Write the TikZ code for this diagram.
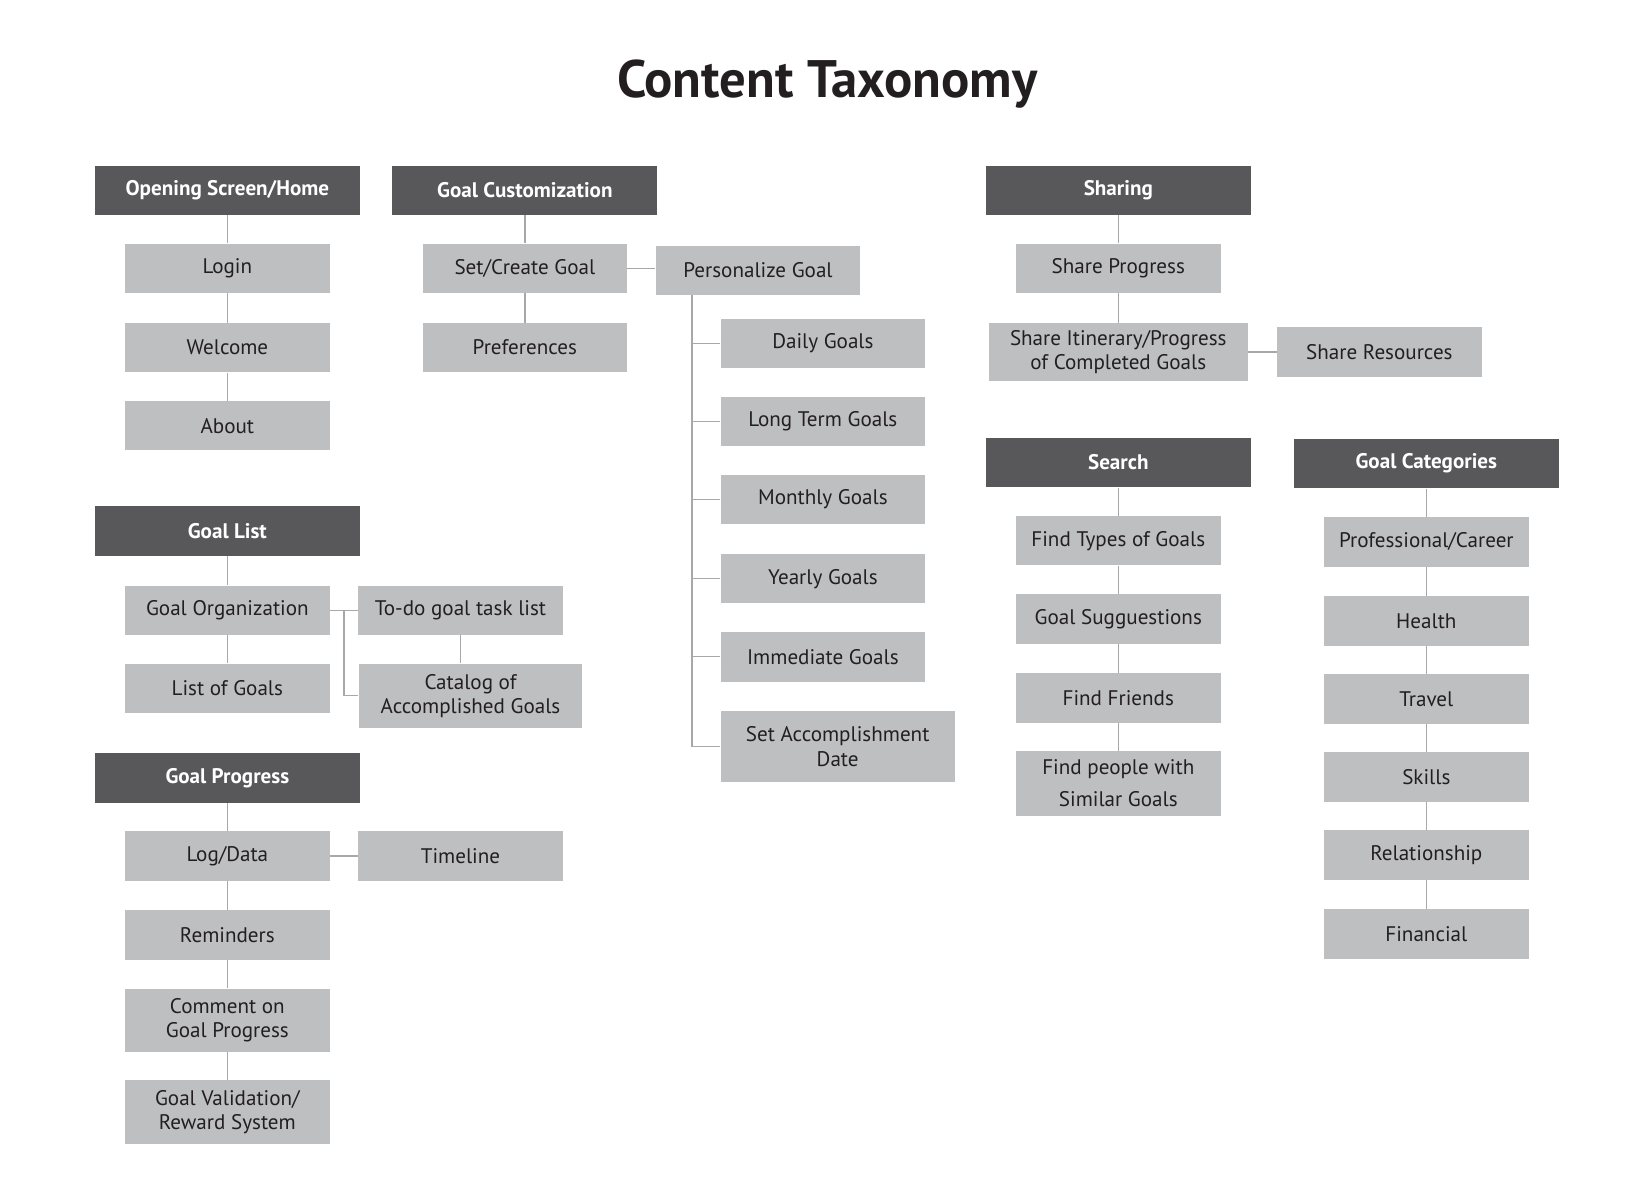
\documentclass[tikz,border=0pt]{standalone}
\usepackage{fontspec}
\setmainfont{PT Sans}
\definecolor{dk}{HTML}{58585A}
\definecolor{lt}{HTML}{BEBFC1}
\definecolor{ln}{HTML}{A8A8A8}
\definecolor{tx}{HTML}{231F20}
\begin{document}
\begin{tikzpicture}[x=1pt,y=-1pt,
 hd/.style={fill=dk,text=white,font=\fontsize{20}{22}\selectfont\bfseries,minimum width=251pt,minimum height=47pt,inner sep=0pt,align=center},
 bx/.style={fill=lt,text=tx,font=\fontsize{20}{24}\selectfont,minimum width=194pt,minimum height=47pt,inner sep=0pt,align=center},
 ln/.style={draw=ln,line width=1.3pt}]
\useasboundingbox (0,0) rectangle (1564,1126);
\node[text=tx,font=\fontsize{50}{56}\selectfont\bfseries] (title) at (784,80) {Content Taxonomy};
% Opening
\node[hd] (osh) at (215.5,180.5) {Opening Screen/Home};
\node[bx] (login) at (215.5,254.5) {Login};
\node[bx] (welc) at (215.5,329.5) {Welcome};
\node[bx] (about) at (215.5,403.5) {About};
\draw[ln] (osh) -- (login) (login) -- (welc) (welc) -- (about);
% Goal customization
\node[hd] (gc) at (497.5,180.5) {Goal Customization};
\node[bx] (set) at (497.5,254.5) {Set/Create Goal};
\node[bx] (pref) at (497.5,329.5) {Preferences};
\node[bx] (pers) at (718.5,256.5) {Personalize Goal};
\draw[ln] (gc) -- (set) (set) -- (pref);
\draw[ln] (set.east) -- (set.east -| pers.west);
\node[bx] (daily) at (780,325.5) {Daily Goals};
\node[bx] (long) at (780,399.5) {Long Term Goals};
\node[bx] (month) at (780,473.5) {Monthly Goals};
\node[bx] (year) at (780,548.5) {Yearly Goals};
\node[bx] (imm) at (780,622.5) {Immediate Goals};
\node[bx,minimum width=222pt,minimum height=67pt] (sad) at (794,707.5) {Set Accomplishment\\Date};
\coordinate (pv) at (656,280);
\draw[ln] (pv) |- (sad.west);
\foreach \n in {daily,long,month,year,imm} \draw[ln] (\n.west) -- (\n.west -| pv);
% Sharing
\node[hd] (sh) at (1060,180.5) {Sharing};
\node[bx] (shp) at (1060,254.5) {Share Progress};
\node[bx,minimum width=246pt,minimum height=55pt,font=\fontsize{20}{23}\selectfont] (shi) at (1060,333.5) {Share Itinerary/Progress\\of Completed Goals};
\node[bx] (shr) at (1307.5,333.5) {Share Resources};
\draw[ln] (sh) -- (shp) (shp) -- (shi) (shi) -- (shr);
% Search
\node[hd] (se) at (1060,438.5) {Search};
\node[bx] (ft) at (1060,512.5) {Find Types of Goals};
\node[bx] (gs) at (1060,586.5) {Goal Sugguestions};
\node[bx] (ff) at (1060,661.5) {Find Friends};
\node[bx,minimum height=61pt,font=\fontsize{20}{30}\selectfont] (fp) at (1060,742.5) {Find people with\\Similar Goals};
\draw[ln] (se) -- (ft) (ft) -- (gs) (gs) -- (ff) (ff) -- (fp);
% Categories
\node[hd] (cat) at (1352,439.5) {Goal Categories};
\node[bx] (c1) at (1352,513.5) {Professional/Career};
\node[bx] (c2) at (1352,588.5) {Health};
\node[bx] (c3) at (1352,662.5) {Travel};
\node[bx] (c4) at (1352,736.5) {Skills};
\node[bx] (c5) at (1352,810.5) {Relationship};
\node[bx] (c6) at (1352,885.5) {Financial};
\draw[ln] (cat) -- (c1) (c1) -- (c2) (c2) -- (c3) (c3) -- (c4) (c4) -- (c5) (c5) -- (c6);
% Goal list
\node[hd] (gl) at (215.5,503.5) {Goal List};
\node[bx] (go) at (215.5,578.5) {Goal Organization};
\node[bx] (lg) at (215.5,652.5) {List of Goals};
\node[bx] (todo) at (436.5,578.5) {To-do goal task list};
\node[bx,minimum width=212pt,minimum height=61pt,font=\fontsize{20}{23}\selectfont] (cata) at (446,659.5) {Catalog of\\Accomplished Goals};
\draw[ln] (gl) -- (go) (go) -- (lg) (go) -- (todo);
\draw[ln] (todo.south) -- (todo.south |- cata.north);
\coordinate (gv) at (326,578.5);
\draw[ln] (gv) |- (cata.west);
% Goal progress
\node[hd] (gp) at (215.5,737.5) {Goal Progress};
\node[bx] (log) at (215.5,811.5) {Log/Data};
\node[bx] (tl) at (436.5,811.5) {Timeline};
\node[bx] (rem) at (215.5,886.5) {Reminders};
\node[bx,minimum height=60pt,font=\fontsize{20}{23}\selectfont] (com) at (215.5,967) {Comment on\\Goal Progress};
\node[bx,minimum height=60pt,font=\fontsize{20}{23}\selectfont] (val) at (215.5,1054) {Goal Validation/\\Reward System};
\draw[ln] (gp) -- (log) (log) -- (tl) (log) -- (rem) (rem) -- (com) (com) -- (val);
\end{tikzpicture}
\end{document}
